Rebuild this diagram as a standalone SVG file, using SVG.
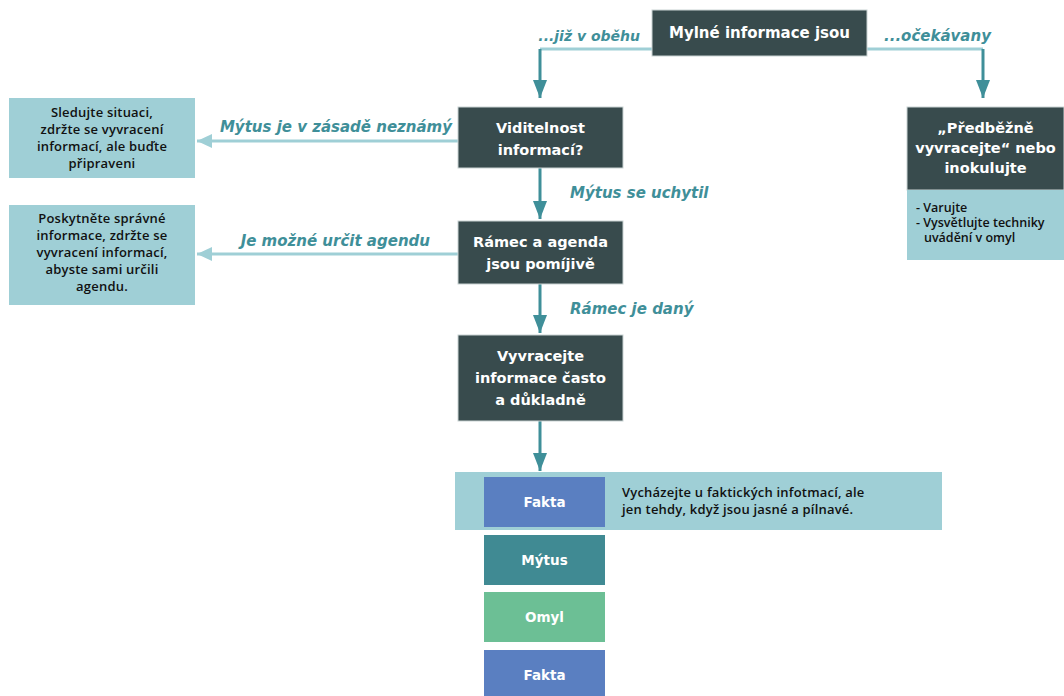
<svg xmlns="http://www.w3.org/2000/svg" width="1064" height="696" viewBox="0 0 1064 696">
<style>
.dark{fill:#384b4d;stroke:#c9d3d3;stroke-width:1}
.light{fill:#9fcfd6}
.wt{font-family:"DejaVu Sans","Open Sans",sans-serif;font-weight:700;font-size:14.5px;fill:#ffffff;text-anchor:middle}
.bt{font-family:"Open Sans","Liberation Sans",sans-serif;font-weight:600;font-size:13px;letter-spacing:0.2px;fill:#111111;text-anchor:middle}
.bs{font-family:"Open Sans","Liberation Sans",sans-serif;font-weight:600;font-size:13px;letter-spacing:0.2px;fill:#111111;text-anchor:start}
.st{font-family:"Open Sans","Liberation Sans",sans-serif;font-weight:600;font-size:12.5px;fill:#111111}
.lbl{font-family:"DejaVu Sans","Open Sans",sans-serif;font-weight:700;font-style:italic;font-size:15px;fill:#3f8f99}
.sw{font-family:"DejaVu Sans","Open Sans",sans-serif;font-weight:700;font-size:13.5px;fill:#ffffff;text-anchor:middle}
.dline{stroke:#3f8f99;stroke-width:3;fill:none}
.lline{stroke:#9fcfd6;stroke-width:3;fill:none}
</style>
<defs>
<marker id="ad" markerUnits="userSpaceOnUse" markerWidth="20" markerHeight="14" refX="18" refY="7" orient="auto">
<path d="M0,0 L18,7 L0,14 Z" fill="#3f8f99"/>
</marker>
<marker id="al" markerUnits="userSpaceOnUse" markerWidth="16" markerHeight="14" refX="15" refY="7" orient="auto">
<path d="M0,0 L15,7 L0,14 Z" fill="#9fcfd6"/>
</marker>
</defs>
<rect width="1064" height="696" fill="#ffffff"/>

<g id="connectors">
<path class="lline" d="M652,49 H540"/>
<path class="dline" d="M540,49 V98" marker-end="url(#ad)"/>
<path class="lline" d="M867,49 H983"/>
<path class="dline" d="M983,49 V98" marker-end="url(#ad)"/>
<path class="lline" d="M458,141 H197" marker-end="url(#al)"/>
<path class="lline" d="M458,254 H197" marker-end="url(#al)"/>
<path class="dline" d="M540,168 V219" marker-end="url(#ad)"/>
<path class="dline" d="M540,284 V333" marker-end="url(#ad)"/>
<path class="dline" d="M540,421 V471" marker-end="url(#ad)"/>
<text class="lbl" x="640" y="41" text-anchor="end" style="font-size:14px">...již v oběhu</text>
<text class="lbl" x="884" y="41">...očekávany</text>
<text class="lbl" x="452" y="132" text-anchor="end">Mýtus je v zásadě neznámý</text>
<text class="lbl" x="570" y="198">Mýtus se uchytil</text>
<text class="lbl" x="430" y="246" text-anchor="end">Je možné určit agendu</text>
<text class="lbl" x="570" y="314">Rámec je daný</text>
</g>

<g id="top">
<rect class="dark" x="652" y="10" width="215" height="46"/>
<text class="wt" x="759.5" y="38" style="font-size:15px">Mylné informace jsou</text>
</g>

<g id="viditelnost">
<rect class="dark" x="458" y="107" width="165" height="61"/>
<text class="wt" x="540.5" y="133">Viditelnost</text>
<text class="wt" x="540.5" y="155">informací?</text>
</g>

<g id="sledujte">
<rect class="light" x="9" y="98" width="186" height="80"/>
<text class="bt" x="102" y="117">Sledujte situaci,</text>
<text class="bt" x="102" y="134">zdržte se vyvracení</text>
<text class="bt" x="102" y="151">informací, ale buďte</text>
<text class="bt" x="102" y="168">připraveni</text>
</g>

<g id="predbezne">
<rect class="dark" x="907" y="107" width="157" height="83" stroke="none"/>
<rect class="light" x="907" y="190" width="157" height="70"/>
<text class="wt" x="985.5" y="133">„Předběžně</text>
<text class="wt" x="985.5" y="153">vyvracejte“ nebo</text>
<text class="wt" x="985.5" y="173">inokulujte</text>
<text class="st" x="916" y="212">- Varujte</text>
<text class="st" x="916" y="227">- Vysvětlujte techniky</text>
<text class="st" x="924" y="242">uvádění v omyl</text>
</g>

<g id="ramec">
<rect class="dark" x="458" y="221" width="165" height="63"/>
<text class="wt" x="540.5" y="247">Rámec a agenda</text>
<text class="wt" x="540.5" y="269">jsou pomíjivě</text>
</g>

<g id="poskytnete">
<rect class="light" x="9" y="205" width="186" height="100"/>
<text class="bt" x="102" y="223">Poskytněte správné</text>
<text class="bt" x="102" y="240">informace, zdržte se</text>
<text class="bt" x="102" y="257">vyvracení informací,</text>
<text class="bt" x="102" y="274">abyste sami určili</text>
<text class="bt" x="102" y="291">agendu.</text>
</g>

<g id="vyvracejte">
<rect class="dark" x="458" y="335" width="165" height="86"/>
<text class="wt" x="540.5" y="361">Vyvracejte</text>
<text class="wt" x="540.5" y="383">informace často</text>
<text class="wt" x="540.5" y="405">a důkladně</text>
</g>

<g id="band">
<rect class="light" x="455" y="472" width="487" height="58"/>
<text class="bs" x="622" y="497">Vycházejte u faktických infotmací, ale</text>
<text class="bs" x="622" y="514">jen tehdy, když jsou jasné a pílnavé.</text>
</g>

<g id="fakta1">
<rect x="484" y="477" width="121" height="50" fill="#5a7fc1"/>
<text class="sw" x="544.5" y="507">Fakta</text>
</g>
<g id="mytus">
<rect x="484" y="535" width="121" height="50" fill="#408a93"/>
<text class="sw" x="544.5" y="565">Mýtus</text>
</g>
<g id="omyl">
<rect x="484" y="592" width="121" height="50" fill="#6cbf95"/>
<text class="sw" x="544.5" y="622">Omyl</text>
</g>
<g id="fakta2">
<rect x="484" y="650" width="121" height="50" fill="#5a7fc1"/>
<text class="sw" x="544.5" y="680">Fakta</text>
</g>
</svg>
